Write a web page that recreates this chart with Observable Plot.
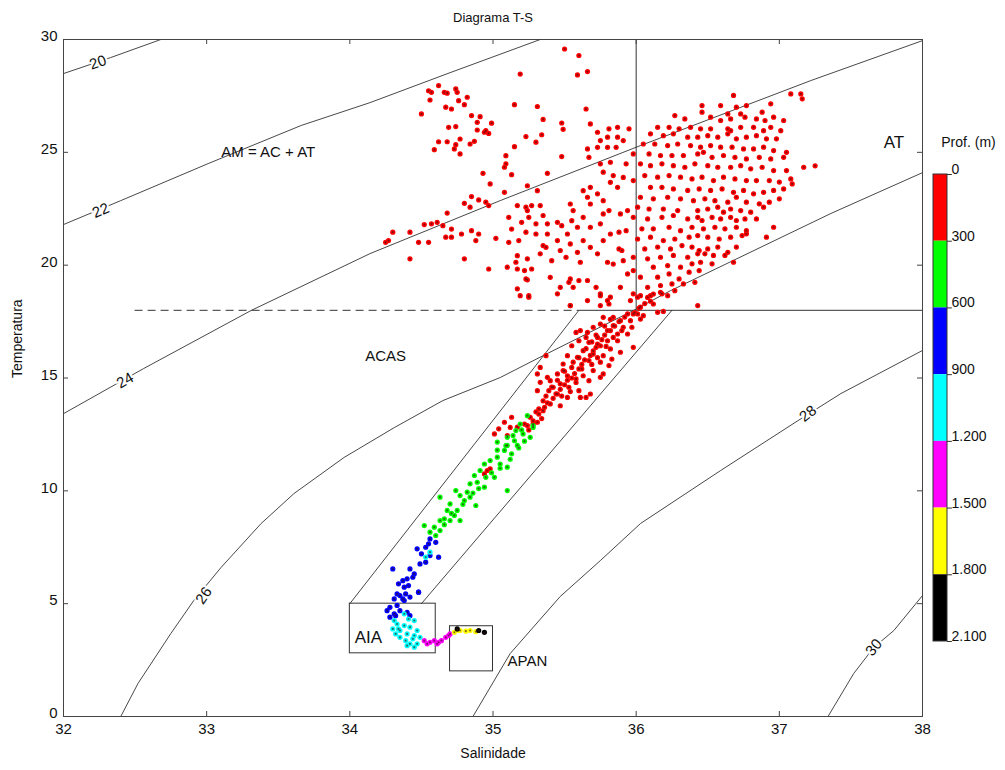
<!DOCTYPE html>
<html><head><meta charset="utf-8">
<script src="https://cdn.jsdelivr.net/npm/d3@7"></script>
<script src="https://cdn.jsdelivr.net/npm/@observablehq/plot@0.6"></script>
<style>
body{margin:0;background:#fff;font-family:"Liberation Sans",Arial,sans-serif;}
#wrap{position:relative;width:1005px;height:770px;overflow:hidden;}
#main{position:absolute;left:0;top:0;}
#cbar{position:absolute;left:905px;top:120px;}
</style></head><body><div id="wrap"><div id="main"></div><div id="cbar"></div></div>
<script>
// ---- axes ----
const xTicks = [32,33,34,35,36,37,38];
const yTicks = [0,5,10,15,20,25,30];
// ---- depth classes (m) ----
const depthBreaks = [300,600,900,1200,1500,1800];
const depthColors = ["#ff0000","#00ff00","#0000ff","#00ffff","#ff00ff","#ffff00","#000000"];
const classDepth = [150,450,750,1050,1350,1650,1950];
const colorbarTicks = [0,300,600,900,1200,1500,1800,2100];

// ---- isopycnals (sigma-t), [S, T] ----
const contourLevels = [20,22,24,26,28,30];
const sigma20 = [[32,28.49],[32.33,29.20],[32.68,30]];
const sigma22 = [[32,21.80],[32.40,22.86],[33.01,24.50],[33.66,26.19],[34.14,27.20],[34.70,28.53],[35.33,30]];
const sigma24 = [[32,13.42],[32.56,15.42],[33.31,17.99],[34.14,20.51],[35.05,22.86],[36.03,25.30],[37.22,28.18],[38,29.95]];
const sigma26 = [[32.40,0],[32.52,1.46],[32.75,3.68],[32.91,5.14],[33.10,6.60],[33.38,8.55],[33.61,9.88],[33.96,11.48],[34.31,12.80],[34.65,14.0],[35.05,15.02],[35.35,15.99],[35.98,17.99],[36.24,18.87],[37.36,22.29],[38,24.10]];
const sigma28 = [[34.86,0],[35.12,2.79],[35.47,5.32],[35.75,6.91],[36.03,8.55],[36.59,10.90],[37.13,13.11],[37.43,14.31],[38,16.22]];
const sigma30 = [[37.34,0],[37.52,1.91],[37.66,3.06],[37.80,3.81],[38,5.36]];
const contourLabelText = ["20","22","24","26","28","30"];
const contourLabelS = [32.24,32.26,32.43,32.98,37.20,37.66];
const contourLabelT = [28.98,22.42,14.89,5.36,13.42,3.06];
const contourLabelRot = [-19,-24,-30,-55,-38,-50];

// ---- water-mass boundaries ----
const acasLeft = [[34.0,5.0],[35.6,18]];
const acasRight = [[34.5,5.0],[36.25,18]];
const boxAIA = {s1:34.0, s2:34.6, t1:2.8, t2:5.0};
const boxAPAN = {s1:34.7, s2:35.0, t1:2.0, t2:4.0};
const massNames = ["AM = AC + AT","AT","ACAS","AIA","APAN"];
const massS = [33.43,37.80,34.25,34.13,35.24];
const massT = [24.99,25.43,15.95,3.50,2.44];
const massSize = [15,17,15,17,15];

// ---- observations [S, T] by depth class ----
const prof0_300 = [
[35.50,29.58],[35.60,29.29],[35.19,28.47],[35.59,28.43],[35.66,28.58],
[34.55,27.73],[34.57,27.66],[34.62,27.96],[34.66,27.66],[34.68,27.62],[34.74,27.81],[34.75,27.66],[34.56,27.32],[34.76,27.29],[34.82,27.44],[34.80,27.11],[34.67,27.00],[34.71,26.92],[34.50,26.70],[34.85,26.63],[34.91,26.58],[34.89,26.33],[34.69,26.11],[34.74,26.14],[34.99,26.29],[34.89,25.99],[34.95,25.96],[34.97,25.84],[34.94,25.89],[34.77,25.59],[34.62,25.47],[34.68,25.47],[34.74,25.34],[34.84,25.37],[34.87,25.49],[34.59,25.12],[34.73,25.15],[34.77,24.93],
[35.15,27.11],[35.31,27.03],[35.35,26.46],[35.23,25.70],[35.30,25.45],[35.34,25.78],[35.15,25.25],[35.48,26.30],[35.49,26.02],[35.65,26.92],[35.68,26.26],[35.09,24.85],[35.09,24.49],[35.08,24.34],[34.93,24.07],[35.13,24.01],[34.98,23.60],[35.48,24.81],[35.38,24.07],[35.24,23.52],[35.31,23.30],[35.08,23.23],
[35.73,25.89],[35.81,26.04],[35.87,26.11],[35.95,26.04],[35.75,25.52],[35.80,25.67],[35.87,25.67],[35.91,25.52],[35.66,25.15],[35.73,25.22],[35.80,25.22],[35.86,25.22],[35.67,24.78],[35.75,24.49],[35.82,24.56],[35.93,24.49],[35.98,24.93],[35.77,24.12],[35.84,23.97],[35.91,23.89],[35.82,23.67],[35.87,23.45],[35.98,23.75],[35.68,23.45],[35.63,23.30],[35.66,23.01],[35.73,23.16],[35.77,22.86],[35.68,22.71],
[34.80,22.74],[34.85,23.04],[34.90,22.89],[34.95,22.79],[34.97,22.64],[34.84,22.57],[34.68,22.31],[34.61,21.90],[34.52,21.80],[34.57,21.83],[34.65,21.75],[34.71,21.60],[34.78,21.38],[34.85,21.53],[34.90,21.38],[34.71,21.24],[34.67,21.24],[34.88,21.09],[34.30,21.46],[34.42,21.46],[34.25,21.01],[34.27,21.09],[34.48,21.01],[34.55,21.01],[35.02,21.19],[34.42,20.28],[34.80,20.28],
[35.17,22.64],[35.23,22.57],[35.24,22.42],[35.27,22.64],[35.33,22.64],[35.11,22.12],[35.20,21.90],[35.25,22.12],[35.30,21.83],[35.35,22.20],[35.38,21.83],[35.45,21.90],[35.48,21.75],[35.54,22.71],[35.56,22.42],[35.55,21.97],[35.13,21.60],[35.23,21.46],[35.30,21.38],[35.38,21.38],[35.45,21.09],[35.52,21.38],[35.59,21.68],[35.63,22.12],[35.68,21.68],[35.75,21.83],[35.77,22.27],[35.81,22.42],[35.89,22.27],[35.94,22.42],[35.11,21.01],[35.18,21.09],[35.35,20.87],[35.37,20.79],[35.47,20.65],[35.54,20.94],[35.63,21.09],[35.59,20.57],[35.68,20.79],[35.77,21.09],[35.82,21.38],[35.88,21.46],[35.93,21.53],[35.88,20.72],[35.90,20.65],[35.17,20.42],[35.24,20.28],[35.33,20.50],[35.41,20.20],[35.51,20.35],[35.61,20.13],[35.73,20.50],[35.80,20.13],[35.84,20.05],[35.91,20.20],[35.16,20.13],[35.10,19.91],[35.17,19.83],[35.22,19.76],[35.27,19.83],[34.97,19.83],[35.23,19.39],[35.24,19.35],[35.40,19.46],[35.54,19.39],[35.53,19.24],[35.60,19.32],[35.66,19.32],[35.47,19.02],[35.56,19.02],[35.72,19.02],[35.75,18.73],[35.82,18.58],[35.89,19.02],[35.94,19.61],[35.98,19.76],[35.17,18.95],[35.25,18.58],[35.54,18.21],[35.66,18.43],[35.80,18.43],[35.98,18.73],[35.45,18.73],
[36.68,27.52],[37.08,27.59],[37.15,27.59],[37.16,27.37],[36.46,27.07],[36.59,27.07],[36.70,27.00],[36.77,27.07],[36.94,27.15],[36.46,26.78],[36.64,26.70],[36.73,26.70],[36.88,26.78],[36.27,26.63],[36.34,26.48],[36.52,26.56],[36.59,26.41],[36.66,26.48],[36.76,26.56],[36.84,26.48],[36.90,26.41],[36.96,26.56],[37.03,26.41],
[36.15,26.11],[36.23,26.11],[36.30,26.04],[36.38,26.11],[36.45,26.04],[36.52,26.04],[36.64,26.04],[36.73,26.11],[36.82,26.11],[36.89,25.96],[36.94,26.11],[37.01,25.96],[36.10,25.82],[36.19,25.74],[36.26,25.82],[36.36,25.67],[36.43,25.67],[36.50,25.74],[36.57,25.67],[36.64,25.82],[36.66,25.96],[36.70,25.60],[36.77,25.67],[36.84,25.74],[36.91,25.60],[36.98,25.60],
[36.05,25.37],[36.13,25.37],[36.22,25.30],[36.29,25.37],[36.38,25.30],[36.45,25.23],[36.52,25.30],[36.59,25.23],[36.67,25.23],[36.75,25.15],[36.82,25.15],[36.89,25.23],[36.96,25.08],[37.05,25.00],[36.09,24.93],[36.17,24.86],[36.25,24.86],[36.33,24.86],[36.43,24.93],[36.47,25.00],[36.53,24.78],[36.61,24.86],[36.69,24.78],[36.77,24.71],[36.86,24.78],[36.94,24.71],[37.03,24.78],
[36.03,24.49],[36.10,24.41],[36.18,24.49],[36.26,24.41],[36.34,24.34],[36.41,24.49],[36.50,24.41],[36.57,24.34],[36.66,24.34],[36.73,24.41],[36.80,24.27],[36.88,24.34],[36.96,24.19],[37.05,24.19],[37.17,24.34],[37.25,24.40],
[36.06,23.97],[36.15,23.90],[36.23,23.97],[36.31,23.90],[36.39,23.82],[36.46,23.90],[36.54,23.75],[36.61,23.90],[36.69,23.82],[36.77,23.75],[36.84,23.75],[36.93,23.75],[37.00,23.68],[37.08,23.82],
[36.10,23.45],[36.18,23.45],[36.26,23.38],[36.36,23.31],[36.44,23.38],[36.52,23.31],[36.60,23.38],[36.68,23.23],[36.75,23.31],[36.82,23.16],[36.89,23.23],[36.96,23.31],[37.03,23.38],[37.09,23.60],
[36.03,23.01],[36.12,22.94],[36.22,23.01],[36.31,22.94],[36.40,22.86],[36.48,22.94],[36.55,22.86],[36.64,22.79],[36.70,23.01],[36.77,22.79],[36.86,22.72],[36.93,22.79],[37.00,22.94],
[36.01,22.57],[36.09,22.49],[36.19,22.49],[36.29,22.42],[36.43,22.42],[36.50,22.49],[36.57,22.57],[36.61,22.35],[36.66,22.49],[36.73,22.42],[36.80,22.35],[36.89,22.57],
[35.98,22.12],[36.08,22.05],[36.18,22.12],[36.26,22.20],[36.36,22.05],[36.43,22.12],[36.46,21.98],[36.53,22.12],[36.59,22.05],[36.66,22.12],[36.70,21.98],[36.76,22.05],[36.84,22.05],
[36.04,21.61],[36.12,21.61],[36.23,21.68],[36.31,21.53],[36.39,21.68],[36.47,21.61],[36.55,21.68],[36.62,21.61],[36.70,21.68],[36.77,21.53],[36.96,21.68],
[36.01,21.16],[36.10,21.24],[36.19,21.09],[36.27,21.16],[36.37,21.24],[36.43,21.31],[36.50,21.24],[36.58,21.16],[36.66,21.24],[36.74,21.31],[36.77,21.39],[36.91,21.24],
[36.06,20.72],[36.15,20.80],[36.24,20.72],[36.32,20.87],[36.39,20.80],[36.44,20.65],[36.50,20.72],[36.57,20.80],[36.64,20.57],[36.70,20.80],
[35.98,20.35],[36.08,20.28],[36.17,20.35],[36.26,20.43],[36.36,20.35],[36.43,20.50],[36.48,20.50],[36.54,20.43],[36.62,20.43],[36.68,20.13],
[36.12,19.91],[36.22,19.98],[36.31,19.91],[36.39,20.06],[36.45,20.13],[36.53,20.06],[36.03,19.47],[36.15,19.47],[36.23,19.61],[36.30,19.39],[36.37,19.69],[36.44,19.76],
[36.08,19.02],[36.17,19.10],[36.25,19.17],[36.33,19.17],[36.41,19.24],[36.01,18.58],[36.10,18.65],[36.18,18.73],[36.27,18.87],[36.03,18.14],[36.12,18.28],[35.98,17.84],[36.43,18.21],
[35.19,18.65],[35.25,18.65],[35.54,18.21],[35.75,18.65],[35.75,18.21],[35.81,18.28],[35.96,18.43],[36.03,18.65],[36.08,18.57],[36.12,18.72],[36.17,18.80],[36.22,18.65],
[35.94,17.84],[36.01,17.84],[36.05,17.76],[36.15,17.91],[36.19,17.95],[35.89,17.54],[35.96,17.54],[36.03,17.61],[35.84,17.32],[35.91,17.25],[35.97,17.25],[35.75,17.39],[35.70,17.25],[35.80,17.10],[35.87,16.95],[35.94,16.95],[35.66,17.02],[35.61,17.10],[35.58,17.02],[35.73,16.80],[35.80,16.65],[35.87,16.65],[35.60,16.65],[35.67,16.58],[35.75,16.43],[35.82,16.29],[35.89,16.14],[35.55,16.43],[35.63,16.21],[35.70,16.06],[35.77,15.99],[35.52,15.99],[35.59,15.92],[35.67,15.77],[35.75,15.70],[35.81,15.55],[35.37,15.99],[35.33,15.47],[35.49,15.62],[35.55,15.47],[35.62,15.40],[35.70,15.33],[35.77,15.18],[35.31,15.18],[35.45,15.18],[35.52,15.10],[35.58,14.96],[35.67,14.88],[35.75,15.03],[35.33,14.81],[35.40,14.88],[35.47,14.74],[35.53,14.59],[35.60,14.44],[35.68,14.29],[35.31,14.44],[35.39,14.44],[35.45,14.29],[35.52,14.14],[35.61,14.14],[35.65,14.14],[35.35,13.99],[35.40,13.85],[35.47,13.77],[35.32,13.63],[35.35,13.55],[35.26,13.26],[35.13,13.26],[35.28,12.96],[35.22,12.96],[35.12,12.81],[35.83,15.84],[35.98,16.36],[35.84,17.69],[35.77,17.69],[35.65,16.80],[35.72,16.36],[35.49,15.33],[35.42,14.59],[35.38,15.03],
[35.32,13.40],[35.36,13.70],[35.38,13.90],[35.42,14.10],[35.44,14.30],[35.47,14.50],[35.50,14.70],[35.52,14.90],[35.55,15.00],[35.57,15.20],[35.60,15.40],[35.62,15.60],[35.64,15.80],[35.68,16.00],[35.70,16.20],[35.73,16.50],[35.76,16.70],[35.78,16.90],[35.82,17.10],[35.85,17.30],[35.88,17.50],[35.92,17.70],[35.99,17.90],[36.02,18.10],[36.06,18.30],[36.10,18.40],[35.45,14.90],[35.50,15.30],[35.56,15.70],[35.60,15.90],[35.65,16.30],[35.69,16.60],[35.72,16.90],[35.78,17.30],[35.82,17.60],[35.41,14.60],[35.37,14.20],[35.58,14.80],[35.63,15.10],[35.69,15.60],[35.73,15.90],[35.79,16.40],[35.84,16.80],[35.90,17.10],[35.48,14.20],[35.54,14.40],[35.28,13.10],[35.30,13.50],[35.34,13.20],[35.25,12.70],
[35.08,13.04],[35.17,12.82],[35.24,12.89],[35.31,13.04],[35.10,12.45],[35.04,12.75],[34.96,10.90],[34.94,10.75],[34.98,10.97],[35.01,12.52]
];
const prof300_600 = [
[35.24,13.33],[35.19,12.96],[35.16,12.67],[35.28,12.81],[35.10,12.37],[35.15,12.22],[35.26,12.37],[35.09,12.00],
[35.28,12.89],[35.21,12.52],[35.14,12.45],[35.03,12.16],[35.10,12.01],[35.17,12.01],[35.08,11.79],[35.13,11.64],[35.03,11.49],[34.98,11.34],[35.05,11.19],[34.94,11.19],[35.10,11.05],[34.91,10.90],[34.87,10.68],[34.95,10.60],[35.01,10.60],[34.89,10.38],[34.84,10.31],[34.94,10.16],[34.82,9.94],[35.10,10.01],[34.77,9.79],[34.74,10.01],[34.84,9.72],[34.80,9.57],[34.63,9.72],[34.70,9.42],[34.68,9.13],[34.75,9.13],[34.73,8.91],[34.66,8.76],[34.88,9.35],[34.77,8.68],[34.63,8.68],[34.70,8.68],[34.59,8.39],[34.52,8.46],[34.63,8.24],[34.56,8.17],[34.60,8.02],
[35.05,11.00],[34.99,10.80],[35.12,11.40],[35.18,11.90],[34.90,10.10],[34.86,9.90],[34.79,9.40],[34.71,9.00],[34.66,8.50],[35.22,12.20],[35.20,12.70],[35.03,11.80]
];
const prof600_900 = [
[34.56,7.87],[34.55,7.65],[34.60,7.72],[34.47,7.43],[34.53,7.50],[34.50,7.21],[34.56,7.13],[34.62,7.06],[34.49,6.76],[34.53,6.84],[34.30,6.54],[34.42,6.54],[34.45,6.32],[34.44,6.17],[34.40,6.10],[34.37,6.02],[34.34,5.88],[34.38,5.73],[34.41,5.80],[34.48,5.51],[34.33,5.43],[34.35,5.36],[34.39,5.43],[34.37,5.21],[34.42,5.29],
[34.33,4.92],[34.28,4.84],[34.26,4.69],[34.31,4.55],[34.35,4.69],[34.28,4.40],[34.32,4.47],[34.40,4.62],[34.42,4.47],[34.38,5.14],[34.31,5.21],[34.48,5.51]
];
const prof900_1200 = [
[34.56,7.28],[34.53,7.06],
[34.31,4.25],[34.33,4.10],[34.38,4.03],[34.42,3.96],[34.47,3.81],[34.35,3.81],[34.40,3.66],[34.45,3.59],[34.49,3.51],[34.39,3.36],[34.42,3.22],[34.47,3.22],[34.35,3.51],[34.30,3.88],[34.45,4.25],[34.41,4.32],[34.38,4.55],[34.32,3.66],[34.34,3.88],[34.44,3.44],[34.40,3.14],[34.45,3.07]
];
const prof1200_1500 = [[34.52,3.36],[34.54,3.22],[34.56,3.29],[34.59,3.36],[34.62,3.29],[34.64,3.36],[34.67,3.51],[34.69,3.59],[34.70,3.66],[34.61,3.22]];
const prof1500_1800 = [[34.73,3.73],[34.75,3.81],[34.77,3.81],[34.81,3.78],[34.84,3.81],[34.88,3.76]];
const prof1800_2100 = [[34.90,3.81],[34.94,3.73],[34.75,3.88]];

// ---- build tables ----
const groups = [prof0_300,prof300_600,prof600_900,prof900_1200,prof1200_1500,prof1500_1800,prof1800_2100];
const obs = groups.flatMap((g,i)=>g.map(([s,t])=>({s,t,prof:classDepth[i]})));
const sigmas = [sigma20,sigma22,sigma24,sigma26,sigma28,sigma30];
const contours = sigmas.flatMap((c,i)=>c.map(([s,t])=>({s,t,nivel:contourLevels[i]})));
const clabels = contourLabelText.map((txt,i)=>({txt,s:contourLabelS[i],t:contourLabelT[i],rot:contourLabelRot[i]}));
const masses = massNames.map((n,i)=>({n,s:massS[i],t:massT[i],size:massSize[i]}));
const acas = [...acasLeft.map(([s,t])=>({s,t,k:"L"})),...acasRight.map(([s,t])=>({s,t,k:"R"}))];

const colorScale = {type:"threshold", domain:depthBreaks, range:depthColors};
const font = "Liberation Sans, Arial, Helvetica, sans-serif";
const lineCol = "#333";

const W=1005,H=770,ML=63,MR=83,MT=39,MB=54;
const PW=W-ML-MR, PH=H-MT-MB;

const main = Plot.plot({
  width:W, height:H, marginLeft:ML, marginRight:MR, marginTop:MT, marginBottom:MB,
  style:{fontFamily:font, fontSize:"14px", background:"#fff", color:"#111"},
  x:{domain:[32,38]}, y:{domain:[0,30]},
  color:colorScale,
  marks:[
    Plot.line(contours,{x:"s",y:"t",z:"nivel",stroke:lineCol,strokeWidth:0.9}),
    Plot.ruleX([36],{y1:18,y2:30,stroke:lineCol,strokeWidth:1}),
    Plot.ruleY([18],{x1:32.5,x2:35.6,stroke:lineCol,strokeWidth:1,strokeDasharray:"8,5"}),
    Plot.ruleY([18],{x1:35.6,x2:38,stroke:lineCol,strokeWidth:1}),
    Plot.line(acas,{x:"s",y:"t",z:"k",stroke:lineCol,strokeWidth:0.9}),
    Plot.rect([boxAIA,boxAPAN],{x1:"s1",x2:"s2",y1:"t1",y2:"t2",stroke:lineCol,strokeWidth:1,fill:"none"}),
    Plot.text(clabels,{x:"s",y:"t",text:"txt",rotate:"rot",fontSize:15,fill:"#111",stroke:"white",strokeWidth:4,paintOrder:"stroke"}),
    Plot.dot(obs,{x:"s",y:"t",fill:"prof",r:2.6,stroke:"none"}),
    Plot.dot(obs,{x:"s",y:"t",fill:"#3a1010",r:1.1,fillOpacity:0.6}),
    Plot.text(masses,{x:"s",y:"t",text:"n",fontSize:"size",fill:"#111"}),
    Plot.frame({stroke:"#444",strokeWidth:1}),
    Plot.ruleX(xTicks,{insetTop:PH-5,stroke:"#444"}),
    Plot.ruleX(xTicks,{insetBottom:PH-5,stroke:"#444"}),
    Plot.ruleY(yTicks,{insetRight:PW-5,stroke:"#444"}),
    Plot.ruleY(yTicks,{insetLeft:PW-5,stroke:"#444"}),
    Plot.axisX({ticks:xTicks,tickFormat:d3.format("d"),anchor:"bottom",tickSize:0,tickPadding:7,fontSize:15,label:null}),
    Plot.axisY({ticks:yTicks,tickFormat:d3.format("d"),anchor:"left",tickSize:0,tickPadding:6,fontSize:15,label:null,dy:-3}),
    Plot.text(["Diagrama T-S"],{frameAnchor:"top",dy:-27,fontSize:13,fill:"#111"}),
    Plot.text(["Salinidade"],{frameAnchor:"bottom",dy:41,fontSize:14,fill:"#111"}),
    Plot.text(["Temperatura"],{frameAnchor:"left",dx:-46,rotate:-90,fontSize:14,fill:"#111"})
  ]
});
document.getElementById("main").appendChild(main);

// ---- colour bar ----
const fmt = d3.formatLocale({decimal:",",thousands:".",grouping:[3],currency:["",""]}).format(",");
const segs = classDepth.map((m,i)=>({y1:colorbarTicks[i],y2:colorbarTicks[i+1],prof:m}));
const cbar = Plot.plot({
  width:100, height:540, margin:0,
  style:{fontFamily:font, fontSize:"14px", background:"transparent", color:"#111"},
  x:{domain:[0,1],range:[28,42],axis:null},
  y:{domain:[0,2100],range:[54,521],axis:null},
  color:colorScale,
  marks:[
    Plot.rect(segs,{x1:0,x2:1,y1:"y1",y2:"y2",fill:"prof"}),
    Plot.rect([{a:0,b:2100}],{x1:0,x2:1,y1:"a",y2:"b",stroke:"#333",fill:"none"}),
    Plot.ruleY(colorbarTicks,{x1:1,x2:1.35,stroke:"#333"}),
    Plot.text(colorbarTicks,{x:1,y:d=>d,text:d=>fmt(d),dx:4,dy:-5,textAnchor:"start",fontSize:14,fill:"#111"}),
    Plot.text(["Prof. (m)"],{frameAnchor:"top-left",dx:63,dy:17,textAnchor:"middle",fontSize:14,fill:"#111"})
  ]
});
document.getElementById("cbar").appendChild(cbar);
</script></body></html>
